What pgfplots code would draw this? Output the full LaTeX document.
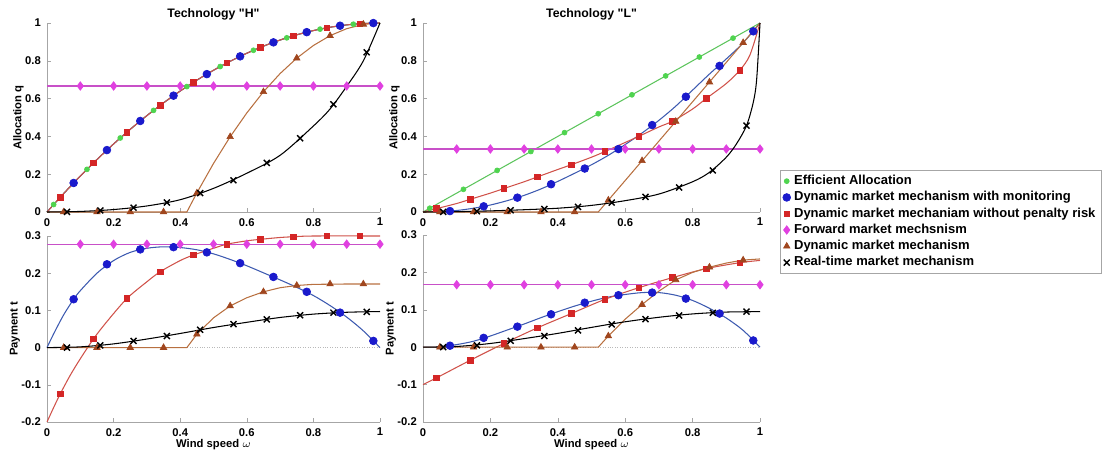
\documentclass[border=0pt]{standalone}
\usepackage{fontspec}
\setmainfont{Liberation Sans}[Ligatures=TeXOff]
\usepackage{pgfplots}
\pgfplotsset{compat=1.18}

\definecolor{cGreen}{HTML}{4FD44F}
\definecolor{cGreenL}{HTML}{5CC45C}
\definecolor{cBlue}{HTML}{1A1ACC}
\definecolor{cBlueL}{HTML}{3D5AB0}
\definecolor{cRed}{HTML}{D42626}
\definecolor{cRedL}{HTML}{D0524A}
\definecolor{cMag}{HTML}{E040E0}
\definecolor{cMagL}{HTML}{C850C8}
\definecolor{cBrown}{HTML}{A0461E}
\definecolor{cBrownL}{HTML}{B87040}

\newcommand\fs{\fontsize{6.4}{7.6}\selectfont}
\newcommand\fl{\fontsize{7.4}{8.4}\selectfont}
\newcommand\ft{\fontsize{7}{8.2}\selectfont}

\pgfplotsset{
  panel/.style={
    scale only axis, clip=false,
    axis lines*=left, axis line style={gray!70,-},
    xmin=0, xmax=1, xtick={0,0.2,0.4,0.6,0.8,1},
    tick align=inside, major tick length=2pt, tick style={gray!70},
    /pgf/number format/assume math mode=true,
    tick label style={font=\fs\bfseries},
    label style={font=\fs\bfseries},
    ylabel style={yshift=-6pt},
    xlabel style={yshift=5pt},
    title style={font=\ft\bfseries, yshift=-8pt},
  },
  gl/.style={color=cGreenL, line width=0.6pt, forget plot},
  bl/.style={color=cBlueL, line width=0.6pt, forget plot},
  rl/.style={color=cRedL, line width=0.6pt, forget plot},
  ml/.style={color=cMagL, line width=0.6pt, forget plot},
  nl/.style={color=cBrownL, line width=0.6pt, forget plot},
  kl/.style={color=black, line width=0.6pt, forget plot},
  gm/.style={only marks, mark=*, mark size=1.4pt, color=cGreen},
  bm/.style={only marks, mark=*, mark size=2.2pt, color=cBlue},
  rm/.style={only marks, mark=square*, mark size=1.6pt, color=cRed},
  mm/.style={only marks, mark=diamond*, mark size=2.4pt, color=cMag},
  nm/.style={only marks, mark=triangle*, mark size=2.1pt, color=cBrown},
  km/.style={only marks, mark=x, mark size=2.4pt, color=black, mark options={line width=0.8pt}},
  zl/.style={color=gray!55, line width=0.4pt, densely dotted, forget plot},
}

\begin{document}
\begin{tikzpicture}
\path[use as bounding box] (0,0) rectangle (22.28cm,-9.12cm);

% ---------- Technology H, allocation
\begin{axis}[panel, at={(0.94cm,-4.24cm)}, anchor=south west,
  width=6.66cm, height=3.78cm, ymin=0, ymax=1,
  ytick={0,0.2,0.4,0.6,0.8,1},
  title={Technology "H"}, ylabel={Allocation q}]
\addplot[gl, smooth] coordinates {(0,0)(0.05,0.0975)(0.1,0.19)(0.15,0.2775)(0.2,0.36)(0.25,0.4375)(0.3,0.51)(0.35,0.5775)(0.4,0.64)(0.45,0.6975)(0.5,0.75)(0.55,0.7975)(0.6,0.84)(0.65,0.8775)(0.7,0.91)(0.75,0.9375)(0.8,0.96)(0.85,0.9775)(0.9,0.99)(0.95,0.9975)(1,1)};
\addplot[bl, smooth] coordinates {(0,0)(0.05,0.0975)(0.1,0.19)(0.15,0.2775)(0.2,0.36)(0.25,0.4375)(0.3,0.51)(0.35,0.5775)(0.4,0.64)(0.45,0.6975)(0.5,0.75)(0.55,0.7975)(0.6,0.84)(0.65,0.8775)(0.7,0.91)(0.75,0.9375)(0.8,0.96)(0.85,0.9775)(0.9,0.99)(0.95,0.9975)(1,1)};
\addplot[rl, smooth] coordinates {(0,0)(0.05,0.0975)(0.1,0.19)(0.15,0.2775)(0.2,0.36)(0.25,0.4375)(0.3,0.51)(0.35,0.5775)(0.4,0.64)(0.45,0.6975)(0.5,0.75)(0.55,0.7975)(0.6,0.84)(0.65,0.8775)(0.7,0.91)(0.75,0.9375)(0.8,0.96)(0.85,0.9775)(0.9,0.99)(0.95,0.9975)(1,1)};
\addplot[ml] coordinates {(0,0.6667)(1,0.6667)};
\addplot[nl] coordinates {(0,0)(0.42,0)(0.43,0.034)(0.45,0.1008)(0.5,0.2568)(0.55,0.398)(0.6,0.524)(0.65,0.636)(0.7,0.7325)(0.75,0.814)(0.8,0.881)(0.85,0.933)(0.9,0.970)(0.95,0.9926)(1,1)};
\addplot[kl, smooth] coordinates {(0,0)(0.1,0.003)(0.2,0.013)(0.3,0.032)(0.4,0.065)(0.5,0.125)(0.6,0.205)(0.7,0.3)(0.8,0.455)(0.85,0.545)(0.9,0.665)(0.95,0.8)(1,1)};
\addplot[gm] coordinates {(0.02,0.0396)(0.12,0.2256)(0.22,0.3916)(0.32,0.5376)(0.42,0.6636)(0.52,0.7696)(0.62,0.8556)(0.72,0.9216)(0.82,0.9676)(0.92,0.9936)};
\addplot[bm] coordinates {(0.08,0.1536)(0.18,0.3276)(0.28,0.4816)(0.38,0.6156)(0.48,0.7296)(0.58,0.8236)(0.68,0.8976)(0.78,0.9516)(0.88,0.9856)(0.98,0.9996)};
\addplot[rm] coordinates {(0.04,0.0784)(0.14,0.2604)(0.24,0.4224)(0.34,0.5644)(0.44,0.6864)(0.54,0.7884)(0.64,0.8704)(0.74,0.9324)(0.84,0.9744)(0.94,0.9964)};
\addplot[mm] coordinates {(0.1,0.6667)(0.2,0.6667)(0.3,0.6667)(0.4,0.6667)(0.5,0.6667)(0.6,0.6667)(0.7,0.6667)(0.8,0.6667)(0.9,0.6667)(1,0.6667)};
\addplot[nm] coordinates {(0.05,0)(0.15,0)(0.25,0)(0.35,0)(0.45,0.10)(0.55,0.398)(0.65,0.636)(0.75,0.814)(0.85,0.933)(0.95,0.993)};
\addplot[km] coordinates {(0.06,0.001)(0.16,0.008)(0.26,0.023)(0.36,0.05)(0.46,0.1)(0.56,0.168)(0.66,0.26)(0.76,0.39)(0.86,0.57)(0.96,0.845)};
\end{axis}

% ---------- Technology L, allocation (holds the legend)
\begin{axis}[panel, at={(8.46cm,-4.24cm)}, anchor=south west,
  width=6.74cm, height=3.78cm, ymin=0, ymax=1,
  ytick={0,0.2,0.4,0.6,0.8,1},
  title={Technology "L"}, ylabel={Allocation q},
  legend style={at={(1.059,0.222)}, anchor=north west, font=\fl\bfseries,
    draw=gray!70, line width=0.4pt, row sep=0pt, inner sep=1.5pt,
    nodes={inner ysep=1.2pt}},
  legend cell align=left]
\addplot[gl] coordinates {(0,0)(1,1)};
\addplot[bl, smooth] coordinates {(0,0)(0.05,0.002)(0.1,0.008)(0.15,0.02)(0.2,0.037)(0.25,0.06)(0.3,0.088)(0.35,0.122)(0.4,0.162)(0.45,0.205)(0.5,0.25)(0.55,0.3)(0.6,0.357)(0.65,0.418)(0.7,0.485)(0.75,0.56)(0.8,0.645)(0.85,0.73)(0.9,0.81)(0.95,0.895)(1,1)};
\addplot[rl, smooth] coordinates {(0,0)(0.04,0.018)(0.1,0.045)(0.14,0.067)(0.2,0.1)(0.24,0.124)(0.3,0.16)(0.34,0.186)(0.4,0.225)(0.44,0.25)(0.5,0.29)(0.54,0.32)(0.6,0.368)(0.64,0.4)(0.7,0.45)(0.74,0.48)(0.8,0.545)(0.84,0.6)(0.9,0.68)(0.94,0.75)(0.97,0.83)(1,1)};
\addplot[ml] coordinates {(0,0.3333)(1,0.3333)};
\addplot[nl] coordinates {(0,0)(0.52,0)(1,1)};
\addplot[kl, smooth] coordinates {(0,0)(0.1,0.002)(0.2,0.006)(0.3,0.012)(0.4,0.02)(0.5,0.035)(0.6,0.06)(0.7,0.095)(0.8,0.16)(0.85,0.21)(0.9,0.29)(0.93,0.36)(0.96,0.457)(0.98,0.58)(0.99,0.7)(1,1)};
\addplot[gm] coordinates {(0.02,0.02)(0.12,0.12)(0.22,0.22)(0.32,0.32)(0.42,0.42)(0.52,0.52)(0.62,0.62)(0.72,0.72)(0.82,0.82)(0.92,0.92)};
\addlegendentry{Efficient Allocation}
\addplot[bm] coordinates {(0.08,0.005)(0.18,0.03)(0.28,0.076)(0.38,0.147)(0.48,0.23)(0.58,0.333)(0.68,0.46)(0.78,0.61)(0.88,0.773)(0.98,0.956)};
\addlegendentry{Dynamic market mechanism with monitoring}
\addplot[rm] coordinates {(0.04,0.018)(0.14,0.067)(0.24,0.124)(0.34,0.186)(0.44,0.25)(0.54,0.32)(0.64,0.4)(0.74,0.48)(0.84,0.6)(0.94,0.75)};
\addlegendentry{Dynamic market mechaniam without penalty risk}
\addplot[mm] coordinates {(0.1,0.3333)(0.2,0.3333)(0.3,0.3333)(0.4,0.3333)(0.5,0.3333)(0.6,0.3333)(0.7,0.3333)(0.8,0.3333)(0.9,0.3333)(1,0.3333)};
\addlegendentry{Forward market mechsnism}
\addplot[nm] coordinates {(0.05,0)(0.15,0)(0.25,0)(0.35,0)(0.45,0)(0.55,0.0625)(0.65,0.271)(0.75,0.479)(0.85,0.6875)(0.95,0.896)};
\addlegendentry{Dynamic market mechanism}
\addplot[km] coordinates {(0.06,0.001)(0.16,0.004)(0.26,0.009)(0.36,0.016)(0.46,0.027)(0.56,0.05)(0.66,0.08)(0.76,0.13)(0.86,0.22)(0.96,0.457)};
\addlegendentry{Real-time market mechanism}
\end{axis}

% ---------- Technology H, payment
\begin{axis}[panel, at={(0.94cm,-8.44cm)}, anchor=south west,
  width=6.66cm, height=3.72cm, ymin=-0.2, ymax=0.3,
  ytick={-0.2,-0.1,0,0.1,0.2,0.3},
  ylabel={Payment t}, xlabel={Wind speed $\omega$}]
\addplot[zl] coordinates {(0,0)(1,0)};
\addplot[bl, smooth] coordinates {(0,0)(0.02,0.037)(0.05,0.088)(0.08,0.13)(0.1,0.153)(0.15,0.2)(0.2,0.234)(0.25,0.256)(0.3,0.267)(0.35,0.271)(0.4,0.269)(0.45,0.263)(0.5,0.252)(0.55,0.237)(0.6,0.22)(0.65,0.201)(0.7,0.182)(0.75,0.162)(0.8,0.14)(0.85,0.113)(0.9,0.082)(0.95,0.045)(1,0)};
\addplot[rl, smooth] coordinates {(0,-0.2)(0.02,-0.161)(0.04,-0.124)(0.07,-0.074)(0.1,-0.03)(0.14,0.024)(0.18,0.07)(0.24,0.132)(0.3,0.177)(0.34,0.204)(0.4,0.234)(0.44,0.249)(0.5,0.267)(0.54,0.278)(0.6,0.287)(0.64,0.291)(0.7,0.296)(0.74,0.298)(0.8,0.3)(1,0.3)};
\addplot[ml] coordinates {(0,0.278)(1,0.278)};
\addplot[nl] coordinates {(0,0)(0.42,0)(0.45,0.036)(0.5,0.08)(0.55,0.112)(0.6,0.134)(0.65,0.15)(0.7,0.161)(0.75,0.167)(0.8,0.17)(0.9,0.171)(1,0.171)};
\addplot[kl, smooth] coordinates {(0,0)(0.1,0.002)(0.2,0.01)(0.3,0.023)(0.4,0.038)(0.5,0.054)(0.6,0.068)(0.7,0.081)(0.8,0.09)(0.9,0.095)(1,0.097)};
\addplot[bm] coordinates {(0.08,0.13)(0.18,0.224)(0.28,0.264)(0.38,0.27)(0.48,0.256)(0.58,0.227)(0.68,0.19)(0.78,0.15)(0.88,0.094)(0.98,0.018)};
\addplot[rm] coordinates {(0.04,-0.124)(0.14,0.024)(0.24,0.132)(0.34,0.204)(0.44,0.249)(0.54,0.278)(0.64,0.291)(0.74,0.298)(0.84,0.3)(0.94,0.3)};
\addplot[mm] coordinates {(0.1,0.278)(0.2,0.278)(0.3,0.278)(0.4,0.278)(0.5,0.278)(0.6,0.278)(0.7,0.278)(0.8,0.278)(0.9,0.278)(1,0.278)};
\addplot[nm] coordinates {(0.05,0)(0.15,0)(0.25,0)(0.35,0)(0.45,0.036)(0.55,0.112)(0.65,0.15)(0.75,0.167)(0.85,0.171)(0.95,0.171)};
\addplot[km] coordinates {(0.06,0.0)(0.16,0.006)(0.26,0.018)(0.36,0.031)(0.46,0.048)(0.56,0.063)(0.66,0.076)(0.76,0.087)(0.86,0.094)(0.96,0.096)};
\end{axis}

% ---------- Technology L, payment
\begin{axis}[panel, at={(8.46cm,-8.44cm)}, anchor=south west,
  width=6.74cm, height=3.74cm, ymin=-0.2, ymax=0.3,
  ytick={-0.2,-0.1,0,0.1,0.2,0.3},
  ylabel={Payment t}, xlabel={Wind speed $\omega$}]
\addplot[zl] coordinates {(0,0)(1,0)};
\addplot[bl, smooth] coordinates {(0,0)(0.05,0.001)(0.1,0.007)(0.15,0.016)(0.2,0.03)(0.25,0.046)(0.3,0.062)(0.35,0.079)(0.4,0.095)(0.45,0.11)(0.5,0.123)(0.55,0.134)(0.6,0.141)(0.65,0.146)(0.7,0.146)(0.75,0.139)(0.8,0.125)(0.85,0.104)(0.9,0.078)(0.95,0.045)(1,0)};
\addplot[rl, smooth] coordinates {(0,-0.1)(0.04,-0.082)(0.14,-0.035)(0.24,0.01)(0.34,0.052)(0.44,0.09)(0.54,0.128)(0.64,0.159)(0.74,0.186)(0.84,0.21)(0.94,0.226)(1,0.232)};
\addplot[ml] coordinates {(0,0.167)(1,0.167)};
\addplot[nl] coordinates {(0,0)(0.52,0)(0.55,0.03)(0.6,0.075)(0.65,0.114)(0.7,0.15)(0.75,0.18)(0.8,0.2)(0.85,0.214)(0.9,0.225)(0.95,0.233)(1,0.236)};
\addplot[kl, smooth] coordinates {(0,0)(0.1,0.002)(0.2,0.01)(0.3,0.023)(0.4,0.037)(0.5,0.053)(0.6,0.068)(0.7,0.08)(0.8,0.089)(0.9,0.094)(1,0.095)};
\addplot[bm] coordinates {(0.08,0.004)(0.18,0.025)(0.28,0.055)(0.38,0.088)(0.48,0.119)(0.58,0.139)(0.68,0.146)(0.78,0.13)(0.88,0.09)(0.98,0.018)};
\addplot[rm] coordinates {(0.04,-0.082)(0.14,-0.035)(0.24,0.01)(0.34,0.052)(0.44,0.09)(0.54,0.128)(0.64,0.159)(0.74,0.186)(0.84,0.21)(0.94,0.226)};
\addplot[mm] coordinates {(0.1,0.167)(0.2,0.167)(0.3,0.167)(0.4,0.167)(0.5,0.167)(0.6,0.167)(0.7,0.167)(0.8,0.167)(0.9,0.167)(1,0.167)};
\addplot[nm] coordinates {(0.05,0)(0.15,0)(0.25,0)(0.35,0)(0.45,0)(0.55,0.03)(0.65,0.114)(0.75,0.18)(0.85,0.214)(0.95,0.233)};
\addplot[km] coordinates {(0.06,0.0)(0.16,0.005)(0.26,0.017)(0.36,0.03)(0.46,0.045)(0.56,0.061)(0.66,0.075)(0.76,0.085)(0.86,0.092)(0.96,0.095)};
\end{axis}
\end{tikzpicture}
\end{document}
